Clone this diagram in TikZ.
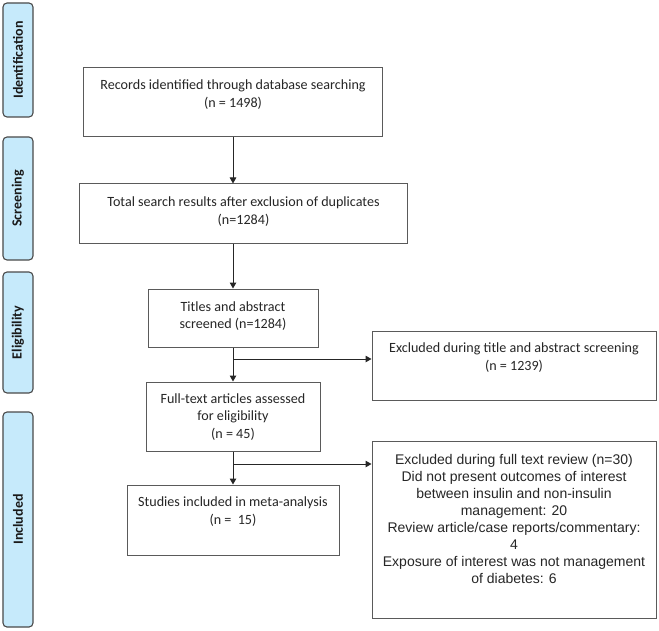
\documentclass[tikz,border=0pt]{standalone}
\usepackage{fontspec}
\setmainfont{Carlito}
\newfontfamily\arialfont{Liberation Sans}
\usetikzlibrary{arrows.meta,calc}
\definecolor{stagefill}{HTML}{C6EAFB}
\definecolor{stageline}{HTML}{4A4A4A}
\definecolor{boxline}{HTML}{5A5A5A}
\tikzset{
  stage/.style={draw=stageline, fill=stagefill, line width=1.1bp, rounded corners=4bp,
    minimum width=30bp, inner sep=0pt},
  stagetxt/.style={rotate=90, font=\fontsize{14bp}{16bp}\selectfont\bfseries, text=black!90},
  box/.style={draw=boxline, line width=1bp, inner sep=0pt},
  txt/.style={align=center, inner sep=0pt, font=\fontsize{14.1bp}{17.2bp}\selectfont, text=black!85},
  atxt/.style={align=center, inner sep=0pt, font=\arialfont\fontsize{14bp}{17bp}\selectfont, text=black!85},
  arr/.style={draw=black!85, line width=1bp, -{Triangle[length=6bp,width=6.5bp]}},
  ln/.style={draw=black!85, line width=1bp}
}
\begin{document}
\begin{tikzpicture}[x=1bp,y=-1bp]
\useasboundingbox[fill=white] (0,0) rectangle (659,631);
% stage labels
\node[stage, minimum height=114bp] (s1) at (18,60) {};
\node[stagetxt] (s1t) at (s1.center) {Identification};
\node[stage, minimum height=123bp] (s2) at (18,198.5) {};
\node[stagetxt] (s2t) at (s2.center) {Screening};
\node[stage, minimum height=121bp] (s3) at (18,332.5) {};
\node[stagetxt] (s3t) at (s3.center) {Eligibility};
\node[stage, minimum height=215bp] (s4) at (18,519.5) {};
\node[stagetxt] (s4t) at (s4.center) {Included};
% boxes
\node[box, minimum width=298bp, minimum height=69bp] (b1) at (233,102.5) {};
\node[txt] (b1t) at (233,94.5) {Records identified through database searching\\(n = 1498)};
\node[box, minimum width=327bp, minimum height=59bp] (b2) at (243.5,213.5) {};
\node[txt] (b2t) at (243.5,211.5) {Total search results after exclusion of duplicates\\(n=1284)};
\node[box, minimum width=170bp, minimum height=58bp] (b3) at (233,318) {};
\node[txt] (b3t) at (233,316) {Titles and abstract\\screened (n=1284)};
\node[box, minimum width=174bp, minimum height=69bp] (b4) at (233,416.5) {};
\node[txt] (b4t) at (233,417) {Full-text articles assessed\\for eligibility\\(n = 45)};
\node[box, minimum width=212bp, minimum height=70bp] (b5) at (233,520) {};
\node[txt] (b5t) at (233,511.5) {Studies included in meta-analysis\\(n = ~15)};
\node[box, minimum width=284bp, minimum height=69bp] (e1) at (514,365.5) {};
\node[txt] (e1t) at (514,357.5) {Excluded during title and abstract screening\\(n = 1239)};
\node[box, minimum width=284bp, minimum height=177bp] (e2) at (514,529.5) {};
\node[atxt] (e2t) at (514,518.5) {Excluded during full text review (n=30)\\Did not present outcomes of interest\\between insulin and non-insulin\\management: 20\\Review article/case reports/commentary:\\4\\Exposure of interest was not management\\of diabetes: 6};
% connectors
\draw[arr] (b1.south) -- (b1.south |- b2.north);
\draw[arr] (b3.north |- b2.south) -- (b3.north);
\coordinate (j1) at (233,359);
\draw[arr] (b3.south) -- (b4.north);
\draw[arr] (j1) -- (j1 -| e1.west);
\coordinate (j2) at (233,464);
\draw[arr] (b4.south) -- (b5.north);
\draw[arr] (j2) -- (j2 -| e2.west);
\end{tikzpicture}
\end{document}
